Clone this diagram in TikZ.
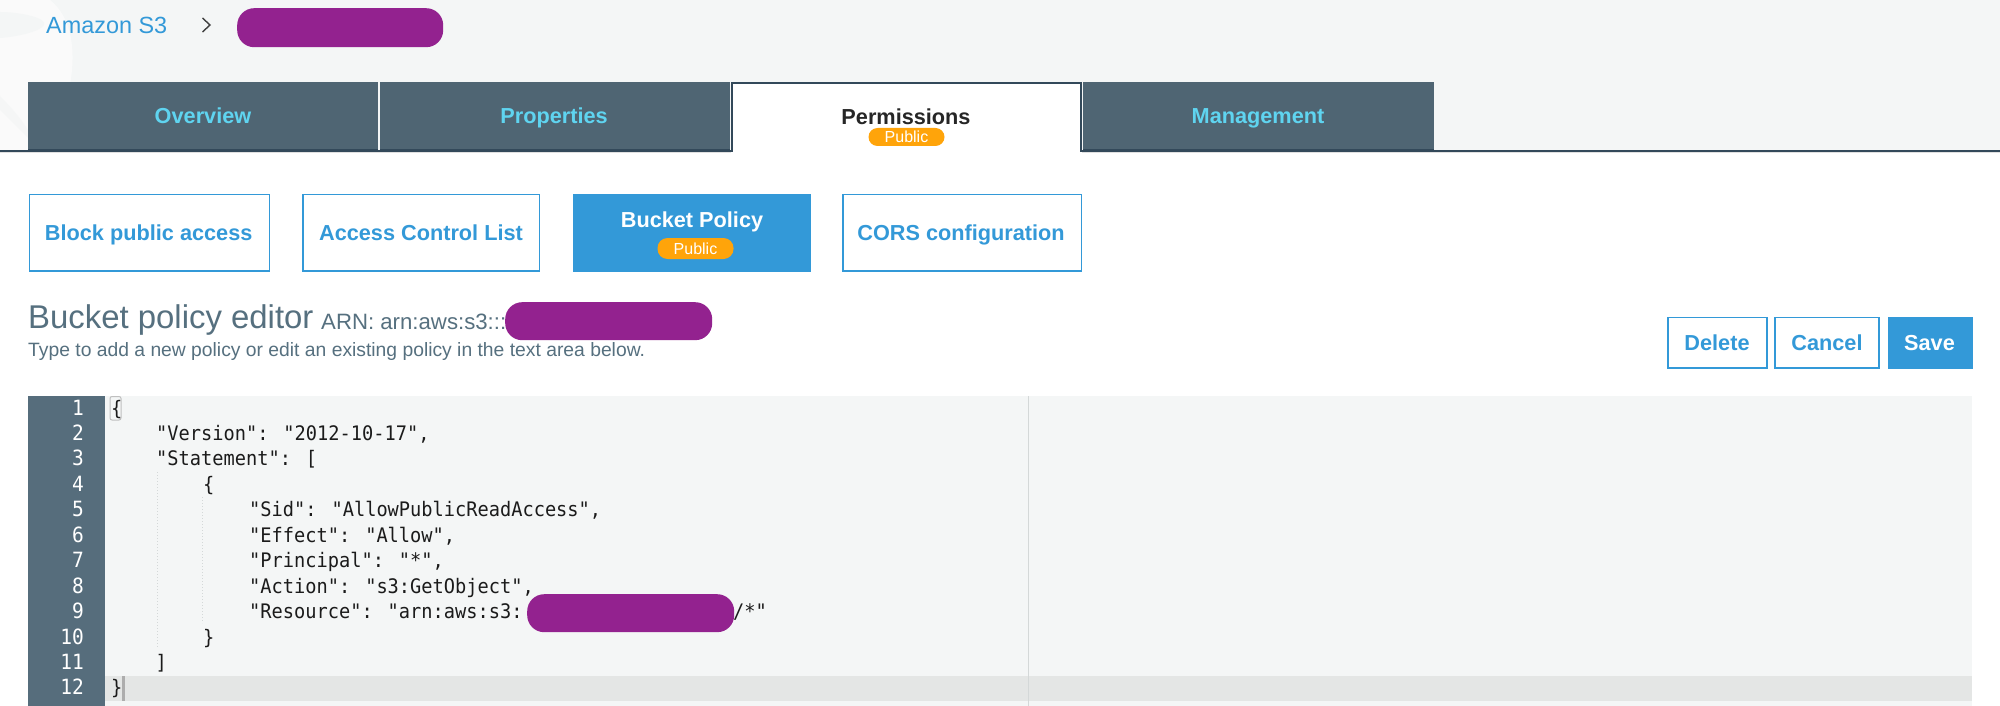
\documentclass[tikz,border=0pt]{standalone}
\usepackage{fontspec}
\setmainfont{Liberation Sans}
\newfontfamily\codefont[FakeStretch=0.933]{DejaVu Sans Mono}
\newfontfamily\numfont[FakeStretch=0.93]{DejaVu Sans Mono}
\definecolor{pagebg}{HTML}{F4F6F6}
\definecolor{tabdark}{HTML}{4F6573}
\definecolor{tabline}{HTML}{33495A}
\definecolor{tabtext}{HTML}{5FD4F0}
\definecolor{awsblue}{HTML}{3399D8}
\definecolor{pillpurple}{HTML}{93228F}
\definecolor{pillorange}{HTML}{FFA40A}
\definecolor{headgray}{HTML}{56707F}
\definecolor{gutter}{HTML}{566D7C}
\definecolor{activeline}{HTML}{E4E6E5}
\definecolor{guide}{HTML}{D4D8D8}
\definecolor{codeink}{HTML}{1B1B1B}
\tikzset{
  tabbox/.style={fill=tabdark,inner sep=0,anchor=north west},
  tabedge/.style={draw=tabline,line width=1pt},
  outbtn/.style={draw=awsblue,line width=1.8pt,fill=white,inner sep=0,anchor=north west},
  fillbtn/.style={draw=awsblue,line width=1.8pt,fill=awsblue,inner sep=0,anchor=north west},
  btnlabel/.style={font=\bfseries\fontsize{21.7}{26}\selectfont,text=awsblue,inner sep=0,anchor=base},
  tablabel/.style={font=\bfseries\fontsize{21.7}{26}\selectfont,text=tabtext,inner sep=0,anchor=base},
  purplepill/.style={fill=pillpurple,rounded corners=17pt,inner sep=0,anchor=north west},
  orangepill/.style={fill=pillorange,rounded corners=9pt,text=white,font=\fontsize{16}{18}\selectfont,inner sep=0,anchor=center},
  codeline/.style={font=\codefont\fontsize{20}{24}\selectfont,text=codeink,anchor=base west,inner sep=0},
  lineno/.style={font=\numfont\fontsize{21}{24}\selectfont,text=white,anchor=base east,inner sep=0},
  guideline/.style={draw=guide,line width=1pt,dash pattern=on 1pt off 2pt}
}
\begin{document}
\begin{tikzpicture}[x=1pt,y=-1pt]
\useasboundingbox (0,0) rectangle (2000,706);
\fill[white] (0,0) rectangle (2000,706);
% top band with its pale watermark
\fill[pagebg] (0,0) rectangle (2000,150);
\fill[white,opacity=.55] (0,0) -- (50,0) .. controls (72,18) and (76,50) .. (70,85) .. controls (66,110) and (62,130) .. (58,150) -- (0,150) -- cycle;
\fill[pagebg] (0,12) .. controls (20,12) and (48,18) .. (44,25) .. controls (40,32) and (15,37) .. (0,38) -- cycle;
\fill[pagebg,opacity=.8] (0,96) .. controls (12,108) and (22,120) .. (28,130) -- (28,138) .. controls (18,128) and (8,118) .. (0,110) -- cycle;
% breadcrumb
\node[font=\fontsize{23.4}{26}\selectfont,text=awsblue,inner sep=0,anchor=base west] (crumb) at (46,33.6) {Amazon S3};
\coordinate (chevT) at (202.5,18);
\coordinate (chevM) at (210,25);
\coordinate (chevB) at (202.5,32);
\draw[black!75,line width=1.4pt] (chevT) -- (chevM) -- (chevB);
\node[purplepill,minimum width=206pt,minimum height=39pt] (p1) at (237,8) {};
% tabs
\node[fill=white,inner sep=0,anchor=north west,minimum width=349pt,minimum height=68pt] (perm) at (732,83) {};
\draw[tabline,line width=1.6pt] (0,151) -- (732,151) -- (732,83.3) -- (1081,83.3) -- (1081,151) -- (2000,151);
\draw[black!12,line width=1pt] (0,153) -- (731,153);
\draw[black!12,line width=1pt] (1082,153) -- (2000,153);
\node[tabbox,minimum width=350pt,minimum height=67pt] (t1) at (28,82) {};
\node[tabbox,minimum width=350pt,minimum height=67pt] (t2) at (380,82) {};
\node[tabbox,minimum width=351pt,minimum height=67pt] (t4) at (1083,82) {};
\draw[tabedge] (t1.south west) -- (t1.south east);
\draw[tabedge] (t2.south west) -- (t2.south east);
\draw[tabedge] (t4.south west) -- (t4.south east);
\node[tablabel] (t1t) at (203,124) {Overview};
\node[tablabel] (t2t) at (554,124) {Properties};
\node[tablabel] (t4t) at (1258,124) {Management};
\node[font=\bfseries\fontsize{21.7}{26}\selectfont,text=black!85,inner sep=0,anchor=base] (permt) at (906,125) {Permissions};
\node[orangepill,minimum width=76pt,minimum height=18pt] (pp) at (906.5,137) {Public};
% sub buttons
\node[outbtn,minimum width=240pt,minimum height=76.5pt] (b1) at (28.6,193.6) {};
\node[btnlabel] (b1t) at (148.7,240.7) {Block public access};
\node[outbtn,minimum width=236.5pt,minimum height=76.5pt] (b2) at (302,193.6) {};
\node[btnlabel] (b2t) at (421,240.7) {Access Control List};
\node[fillbtn,minimum width=236.5pt,minimum height=76.5pt] (b3) at (573,193.6) {};
\node[btnlabel,text=white] (b3t) at (692,227.3) {Bucket Policy};
\node[orangepill,minimum width=76pt,minimum height=21pt,rounded corners=10pt] (bp) at (695.5,248.5) {Public};
\node[outbtn,minimum width=238.5pt,minimum height=76.5pt] (b4) at (842,193.6) {};
\node[btnlabel] (b4t) at (961,240.7) {CORS configuration};
% heading
\node[font=\fontsize{32.9}{36}\selectfont,text=headgray,inner sep=0,anchor=base west] (h1) at (28,328.5) {Bucket policy editor};
\node[font=\fontsize{22.2}{26}\selectfont,text=headgray,inner sep=0,anchor=base west] (h2) at (321,329) {ARN: arn:aws:s3:::};
\node[purplepill,minimum width=207pt,minimum height=38pt] (p2) at (505,302) {};
\node[font=\fontsize{19.3}{24}\selectfont,text=headgray,inner sep=0,anchor=base west] (h3) at (28,356) {Type to add a new policy or edit an existing policy in the text area below.};
% action buttons
\node[outbtn,minimum width=99pt,minimum height=50.5pt] (del) at (1666.8,316.6) {};
\node[btnlabel] (delt) at (1717,350) {Delete};
\node[outbtn,minimum width=104pt,minimum height=50.5pt] (can) at (1774.4,316.6) {};
\node[btnlabel] (cant) at (1827,350) {Cancel};
\node[fillbtn,minimum width=83.4pt,minimum height=50.5pt] (sav) at (1887.6,316.6) {};
\node[btnlabel,text=white] (savt) at (1929.5,350) {Save};
% editor
\fill[pagebg] (28,396) rectangle (1972,706);
\fill[activeline] (105,676) rectangle (1972,701);
\fill[gutter] (28,396) rectangle (105,706);
\draw[guide,line width=1pt] (1028,396) -- (1028,706);
\draw[guideline] (157,472) -- (157,647);
\draw[guideline] (202,497) -- (202,623);
\draw[black!25,line width=1pt,rounded corners=2pt] (110,396.5) -- (121,396.5) -- (121,420) -- (110,420) -- cycle;
\fill[black!32] (122.3,676) rectangle (125.3,701);
\foreach \n in {1,...,12}{
  \node[lineno] (n\n) at (84,{415+(\n-1)*25.45}) {\n};
}
\node[codeline] (c1) at (111,415) {\{};
\node[codeline] (c2) at (156,440.45) {"Version": "2012-10-17",};
\node[codeline] (c3) at (156,465.9) {"Statement": [};
\node[codeline] (c4) at (203,491.35) {\{};
\node[codeline] (c5) at (249,516.8) {"Sid": "AllowPublicReadAccess",};
\node[codeline] (c6) at (249,542.25) {"Effect": "Allow",};
\node[codeline] (c7) at (249,567.7) {"Principal": "*",};
\node[codeline] (c8) at (249,593.15) {"Action": "s3:GetObject",};
\node[codeline] (c9) at (249,618.6) {"Resource": "arn:aws:s3:};
\node[purplepill,minimum width=207pt,minimum height=38pt] (p3) at (527,594) {};
\node[codeline] (c9b) at (733,618.6) {/*"};
\node[codeline] (c10) at (203,644.05) {\}};
\node[codeline] (c11) at (155.5,669.5) {]};
\node[codeline] (c12) at (111,694.95) {\}};
\end{tikzpicture}
\end{document}
